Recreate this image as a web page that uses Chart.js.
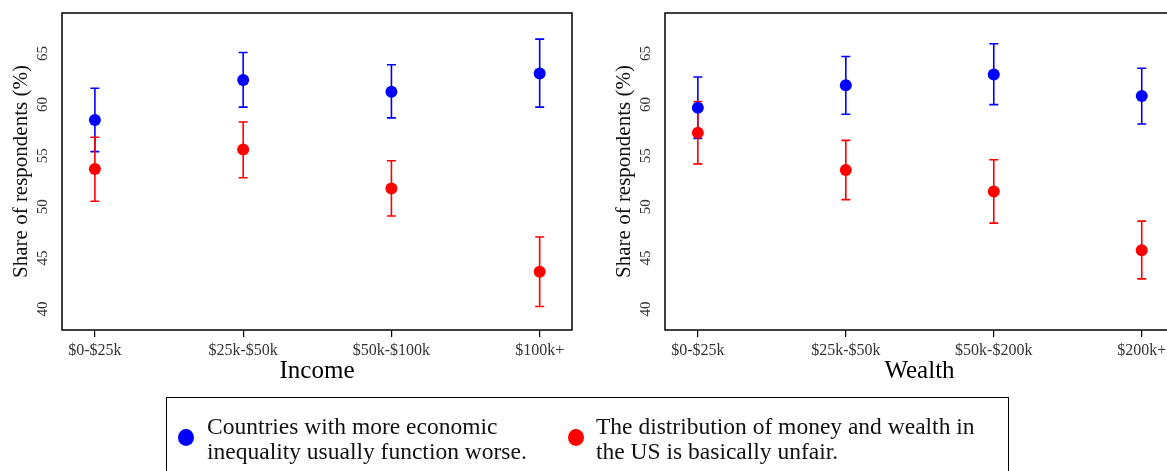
<!DOCTYPE html>
<html><head><meta charset="utf-8">
<script src="https://cdn.jsdelivr.net/npm/chart.js@4/dist/chart.umd.min.js"></script>
<style>
html,body{margin:0;padding:0;background:#fff;overflow:hidden;width:1167px;height:471px;}
#c1{position:absolute;left:0;top:0;}
#c2{position:absolute;left:600px;top:0;}
#legend{position:absolute;left:166px;top:397px;width:843px;height:110px;border:1.5px solid #000;box-sizing:border-box;font-family:"Liberation Serif",serif;font-size:23.5px;line-height:25px;color:#111;}
.dot{position:absolute;width:16px;height:17px;border-radius:50%;}
.txt{position:absolute;white-space:nowrap;}
</style>
</head><body>
<canvas id="c1" width="600" height="400"></canvas>
<canvas id="c2" width="600" height="400"></canvas>
<div id="legend">
  <div class="dot" style="left:11px;top:31px;background:#0000ff"></div>
  <div class="txt" style="left:40px;top:16px">Countries with more economic<br>inequality usually function worse.</div>
  <div class="dot" style="left:401px;top:31px;background:#ff0000"></div>
  <div class="txt" style="left:429px;top:16px">The distribution of money and wealth in<br>the US is basically unfair.</div>
</div>
<script>
const incomeLabels = ['$0-$25k','$25k-$50k','$50k-$100k','$100k+'];
const wealthLabels = ['$0-$25k','$25k-$50k','$50k-$200k','$200k+'];
const yTicks = [40,45,50,55,60,65];
const seriesNames = ['Countries with more economic inequality usually function worse.','The distribution of money and wealth in the US is basically unfair.'];

const incomeBlue     = [58.5, 62.4, 61.25, 63.05];
const incomeBlueLow  = [55.4, 59.75, 58.7, 59.75];
const incomeBlueHigh = [61.6, 65.1, 63.9, 66.4];
const incomeRed      = [53.7, 55.6, 51.8, 43.65];
const incomeRedLow   = [50.55, 52.85, 49.1, 40.25];
const incomeRedHigh  = [56.8, 58.3, 54.5, 47.05];

const wealthBlue     = [59.7, 61.9, 62.95, 60.85];
const wealthBlueLow  = [56.7, 59.05, 60.0, 58.1];
const wealthBlueHigh = [62.7, 64.7, 65.95, 63.55];
const wealthRed      = [57.25, 53.6, 51.5, 45.75];
const wealthRedLow   = [54.2, 50.7, 48.4, 42.95];
const wealthRedHigh  = [60.3, 56.5, 54.6, 48.6];

const BLUE = '#0000ff', RED = '#ff0000';
const SERIF = '"Liberation Serif", serif';

const errPlugin = {
  id: 'errbars',
  beforeDatasetsDraw(chart) {
    const {ctx, scales:{x, y}} = chart;
    chart.data.datasets.forEach(ds => {
      ctx.save();
      ctx.strokeStyle = ds.backgroundColor;
      ctx.lineWidth = 1.6;
      ds.lo.forEach((lo, i) => {
        const px = x.getPixelForValue(i);
        const p1 = y.getPixelForValue(lo), p2 = y.getPixelForValue(ds.hi[i]);
        ctx.beginPath();
        ctx.moveTo(px, p1); ctx.lineTo(px, p2);
        ctx.moveTo(px-4.5, p1); ctx.lineTo(px+4.5, p1);
        ctx.moveTo(px-4.5, p2); ctx.lineTo(px+4.5, p2);
        ctx.stroke();
      });
      ctx.restore();
    });
  },
  afterDraw(chart) {
    const {ctx, chartArea:a, scales:{y}} = chart;
    ctx.save();
    ctx.strokeStyle = '#000';
    ctx.lineWidth = 1.5;
    ctx.strokeRect(a.left, a.top, a.right - a.left, a.bottom - a.top);
    ctx.fillStyle = '#333';
    ctx.font = '15px ' + SERIF;
    ctx.textAlign = 'center';
    ctx.textBaseline = 'middle';
    yTicks.forEach(v => {
      const py = y.getPixelForValue(v);
      ctx.save();
      ctx.translate(a.left - 19, py);
      ctx.rotate(-Math.PI/2);
      ctx.fillText(String(v), 0, 0);
      ctx.restore();
    });
    ctx.restore();
  }
};

function makeChart(id, labels, title, blue, blueLo, blueHi, red, redLo, redHi, yAxisW, padRight) {
  const yTitleFont = 21;
  return new Chart(document.getElementById(id), {
    type: 'scatter',
    data: {
      datasets: [
        {label: seriesNames[0], data: blue.map((v,i)=>({x:i, y:v})), lo: blueLo, hi: blueHi,
         backgroundColor: BLUE, borderColor: BLUE, pointRadius: 6, borderWidth: 0},
        {label: seriesNames[1], data: red.map((v,i)=>({x:i, y:v})), lo: redLo, hi: redHi,
         backgroundColor: RED, borderColor: RED, pointRadius: 6, borderWidth: 0}
      ]
    },
    options: {
      responsive: false, animation: false, devicePixelRatio: 1,
      layout: {padding: {left: 0, top: 13, right: padRight, bottom: 0}},
      plugins: {legend: {display: false}, tooltip: {enabled: false}},
      scales: {
        x: {
          type: 'linear', min: -0.222, max: 3.218,
          afterBuildTicks: s => { s.ticks = labels.map((_, i) => ({value: i})); },
          afterFit: s => { s.height = 70; },
          ticks: {callback: v => labels[v], color: '#333', font: {family: SERIF, size: 16}, padding: 4, maxRotation: 0, autoSkip: false},
          grid: {drawOnChartArea: false, drawTicks: true, tickLength: 7, color: '#000', lineWidth: 1.2},
          border: {display: false},
          title: {display: true, text: title, color: '#000', font: {family: SERIF, size: 25}, padding: {top: 0, bottom: 14}}
        },
        y: {
          min: 37.95, max: 68.96,
          afterBuildTicks: s => { s.ticks = yTicks.map(v => ({value: v})); },
          afterFit: s => { s.width = yAxisW; },
          ticks: {display: false},
          grid: {display: false},
          border: {display: false},
          title: {display: true, text: 'Share of respondents (%)', color: '#111', font: {family: SERIF, size: yTitleFont},
                  padding: {top: yAxisW - 41 - yTitleFont*0.6, bottom: 0}}
        }
      }
    },
    plugins: [errPlugin]
  });
}

makeChart('c1', incomeLabels, 'Income', incomeBlue, incomeBlueLow, incomeBlueHigh, incomeRed, incomeRedLow, incomeRedHigh, 62, 28);
makeChart('c2', wealthLabels, 'Wealth', wealthBlue, wealthBlueLow, wealthBlueHigh, wealthRed, wealthRedLow, wealthRedHigh, 65, 26);
</script>
</body></html>
